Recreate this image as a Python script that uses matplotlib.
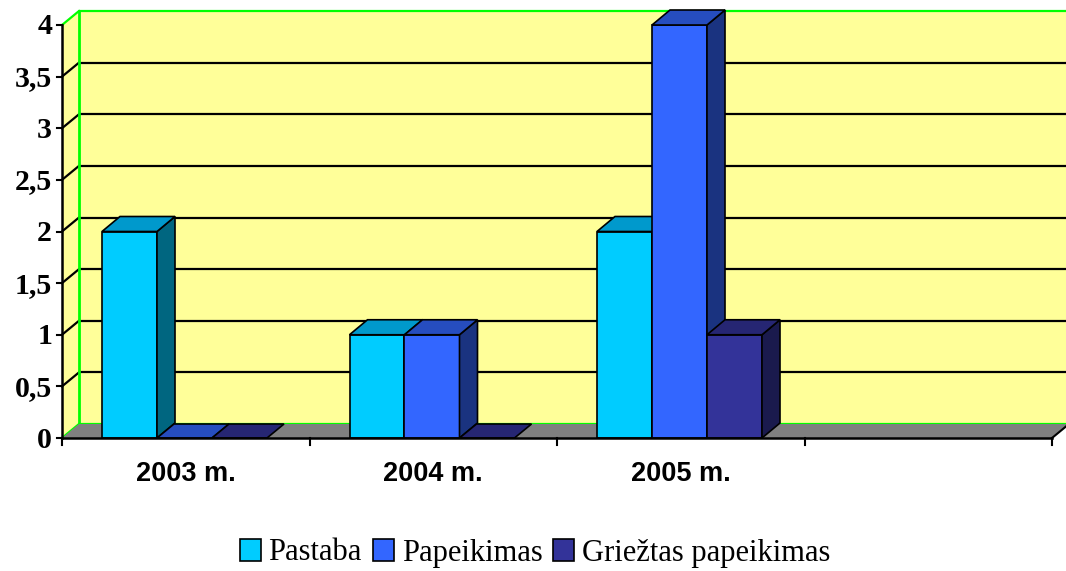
import matplotlib
matplotlib.use("Agg")
import matplotlib.pyplot as plt
from matplotlib.patches import Polygon, Patch

# Data
categories = ["2003 m.", "2004 m.", "2005 m.", ""]
series_names = ["Pastaba", "Papeikimas", "Griežtas papeikimas"]
pastaba = [2, 1, 2, 0]
papeikimas = [0, 1, 4, 0]
grieztas = [0, 0, 1, 0]
series_values = [pastaba, papeikimas, grieztas]
y_ticks = [0, 0.5, 1, 1.5, 2, 2.5, 3, 3.5, 4]
y_tick_labels = ["0", "0,5", "1", "1,5", "2", "2,5", "3", "3,5", "4"]

# Styling: front / side / top face colours per series
front_cols = ["#00CCFF", "#3366FF", "#333399"]
side_cols = ["#006680", "#1A3380", "#1A1A4D"]
top_cols = ["#0099CC", "#264DBF", "#262673"]
wall_col = "#FFFF99"
floor_col = "#808080"
green = "#00FF00"

W, H = 1066, 571
fig = plt.figure(figsize=(W / 100, H / 100), dpi=100)
ax = fig.add_axes([0, 0, 1, 1])
ax.set_axis_off()

# Scale: one category = 247.5 px, one value unit = 103.25 px
cat_px, val_px = 247.5, 103.25
x0_px, y0_px = 62, 438
ax.set_xlim(-x0_px / cat_px, (W - x0_px) / cat_px)
ax.set_ylim(-(H - y0_px) / val_px, y0_px / val_px)

ncat = len(categories)
ymax = 4
ddx = 17 / cat_px          # depth offset in x (data units)
ddy = 14 / val_px          # depth offset in y (data units)
bdx = 18 / cat_px          # bar depth offset
bdy = 15 / val_px
xr = ncat                  # right edge of the front floor
xright = xr + ddx + 0.1

# Back wall
ax.add_patch(Polygon([(ddx, ddy), (xright, ddy), (xright, ymax + ddy), (ddx, ymax + ddy)],
                     closed=True, facecolor=wall_col, edgecolor="none", zorder=1))
# Side wall
ax.add_patch(Polygon([(0, 0), (ddx, ddy), (ddx, ymax + ddy), (0, ymax)],
                     closed=True, facecolor=wall_col, edgecolor="none", zorder=1))
# Gridlines on back wall and side wall
for t in y_ticks:
    col = green if t in (0, ymax) else "black"
    ax.plot([ddx, xright], [t + ddy, t + ddy], color=col, lw=1.6, zorder=2,
            solid_capstyle="butt")
    ax.plot([0, ddx], [t, t + ddy], color=col, lw=1.6, zorder=2)
ax.plot([ddx, ddx], [ddy, ymax + ddy], color=green, lw=2, zorder=2)

# Floor
ax.add_patch(Polygon([(0, 0), (xr, 0), (xr + ddx, ddy), (ddx, ddy)],
                     closed=True, facecolor=floor_col, edgecolor="none", zorder=3))
ax.plot([xr, xr + ddx], [0, ddy], color="black", lw=1.5, zorder=3)

# Bars (drawn left to right so each covers its neighbour's side face)
gap = 40 / cat_px
bw = 55 / cat_px
for i in range(ncat):
    for j, vals in enumerate(series_values):
        v = vals[i]
        if i == ncat - 1:
            continue
        x = i + gap + j * bw
        z = 4 + i * 3 + j
        ec = "black"
        if v > 0:
            ax.add_patch(Polygon([(x, 0), (x + bw, 0), (x + bw, v), (x, v)], closed=True,
                                 facecolor=front_cols[j], edgecolor=ec, lw=1.2, zorder=z))
            ax.add_patch(Polygon([(x + bw, 0), (x + bw + bdx, bdy), (x + bw + bdx, v + bdy), (x + bw, v)],
                                 closed=True, facecolor=side_cols[j], edgecolor=ec, lw=1.2, zorder=z))
        dx_top, dy_top = (bdx, bdy) if v > 0 else (ddx, ddy)
        ax.add_patch(Polygon([(x, v), (x + bw, v), (x + bw + dx_top, v + dy_top), (x + dx_top, v + dy_top)],
                             closed=True, facecolor=top_cols[j], edgecolor=ec, lw=1.2, zorder=z))

# Axes lines
ax.plot([0, 0], [0, ymax], color="black", lw=1.8, zorder=20)
ax.plot([0, xr], [0, 0], color="black", lw=1.8, zorder=20)
tick_dx = 5 / cat_px
tick_dy = 7 / val_px
for t, lab in zip(y_ticks, y_tick_labels):
    ax.plot([-tick_dx, 0], [t, t], color="black", lw=1.5, zorder=20)
    ax.text(-10 / cat_px, t - 2 / val_px, lab, ha="right", va="center", fontsize=21.5,
            fontweight="bold", family="Liberation Serif", zorder=20)
for i in range(ncat + 1):
    ax.plot([i, i], [0, -tick_dy], color="black", lw=1.5, zorder=20)
for i, c in enumerate(categories):
    ax.text(i + 0.5, -36 / val_px, c, ha="center", va="center", fontsize=19.5,
            fontweight="bold", family="Liberation Sans", zorder=20)

handles = [Patch(facecolor=front_cols[k], edgecolor="black", lw=1.2) for k in range(3)]
fig.legend(handles, series_names, loc="center", bbox_to_anchor=(535 / W, 1 - 553 / H),
           ncol=3, frameon=False, prop={"family": "Liberation Serif", "size": 22},
           handlelength=0.7, handleheight=0.7, handletextpad=0.25, columnspacing=0.35,
           borderaxespad=0)

fig.savefig("out.png", dpi=100)
